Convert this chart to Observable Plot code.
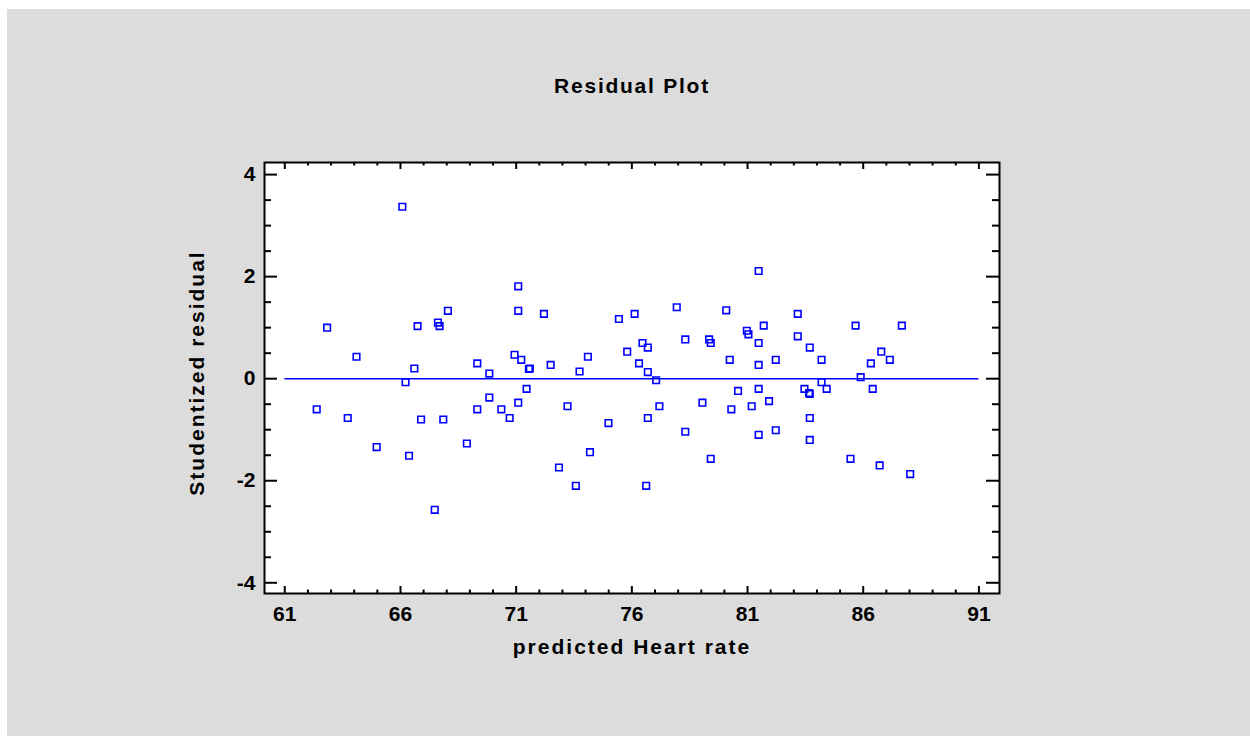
<!DOCTYPE html>
<html>
<head>
<meta charset="utf-8">
<script src="https://cdn.jsdelivr.net/npm/d3@7"></script>
<script src="https://cdn.jsdelivr.net/npm/@observablehq/plot@0.6"></script>
<style>
  html, body { margin: 0; padding: 0; background: #ffffff; }
  #wrap { position: relative; width: 1250px; height: 736px; overflow: hidden; }
  #panel { position: absolute; left: 7px; top: 9px; width: 1243px; height: 727px; background: #dcdcdc; }
  #chart { position: absolute; left: 0; top: 0; }
</style>
</head>
<body>
<div id="wrap"><div id="panel"></div><div id="chart"></div></div>
<script>
const titleText = "Residual Plot";
const xLabel = "predicted Heart rate";
const yLabel = "Studentized residual";

const predicted = [
  62.38, 62.83, 63.72, 64.10, 64.97, 66.08, 66.22, 66.37, 66.60, 66.74,
  66.89, 67.48, 67.62, 67.69, 67.85, 68.05, 68.87, 69.32, 69.32, 69.84,
  69.84, 70.36, 70.72, 70.93, 71.09, 71.09, 71.09, 71.22, 71.45, 71.59,
  71.55, 72.20, 72.49, 72.85, 73.22, 73.58, 73.74, 74.10, 74.19, 74.99,
  75.44, 75.80, 76.12, 76.31, 76.46, 76.62, 76.69, 76.69, 76.69, 77.05,
  77.19, 77.94, 78.31, 78.31, 79.05, 79.34, 79.41, 79.41, 80.08, 80.23,
  80.30, 80.59, 80.97, 81.04, 81.18, 81.48, 81.48, 81.48, 81.48, 81.48,
  81.70, 81.93, 82.22, 82.22, 83.17, 83.17, 83.46, 83.69, 83.69, 83.66,
  83.69, 83.69, 84.20, 84.20, 84.42, 85.45, 85.67, 85.89, 86.33, 86.41,
  86.71, 86.78, 87.15, 87.67, 88.03
];
const residual = [
  -0.60, 1.00, -0.77, 0.43, -1.34, 3.37, -0.07, -1.51, 0.20, 1.03,
  -0.80, -2.57, 1.10, 1.03, -0.80, 1.33, -1.27, 0.30, -0.60, 0.10,
  -0.37, -0.60, -0.77, 0.47, 1.81, 1.33, -0.47, 0.37, -0.20, 0.20,
  0.19, 1.27, 0.27, -1.74, -0.54, -2.10, 0.14, 0.43, -1.44, -0.87,
  1.17, 0.53, 1.27, 0.30, 0.70, -2.10, 0.61, 0.13, -0.77, -0.03,
  -0.54, 1.40, 0.77, -1.04, -0.47, 0.77, 0.70, -1.57, 1.34, 0.37,
  -0.60, -0.24, 0.94, 0.87, -0.54, 2.11, 0.70, 0.27, -0.20, -1.10,
  1.04, -0.44, 0.37, -1.01, 1.27, 0.83, -0.20, 0.61, -0.30, -0.28,
  -0.77, -1.20, 0.37, -0.07, -0.20, -1.57, 1.04, 0.03, 0.30, -0.20,
  -1.70, 0.53, 0.37, 1.04, -1.87
];

const xTicks = [61, 66, 71, 76, 81, 86, 91];
const xMinor = [62, 63, 64, 65, 67, 68, 69, 70, 72, 73, 74, 75, 77, 78, 79, 80,
                82, 83, 84, 85, 87, 88, 89, 90];
const yTicks = [-4, -2, 0, 2, 4];
const yMinor = [-3.5, -3, -2.5, -1.5, -1, -0.5, 0.5, 1, 1.5, 2.5, 3, 3.5];
const zeroLine = [0];

const data = predicted.map((x, i) => ({x, y: residual[i]}));

const W = 1250, H = 736, mL = 264, mR = 251, mT = 162, mB = 143;
const pW = W - mL - mR, pH = H - mT - mB;
const font = "'Liberation Sans', Arial, Helvetica, sans-serif";

const chart = Plot.plot({
  width: W, height: H,
  marginLeft: mL, marginRight: mR, marginTop: mT, marginBottom: mB,
  style: {background: "transparent", fontFamily: font, overflow: "visible"},
  x: {domain: [60.123, 91.89]},
  y: {domain: [-4.21, 4.237]},
  marks: [
    Plot.frame({fill: "white", stroke: null}),
    Plot.axisX(xTicks, {tickSize: 0, tickPadding: 13, fontSize: 21, fontWeight: "bold", fill: "black", label: null, tickFormat: d => String(d)}),
    Plot.axisY(yTicks, {tickSize: 0, tickPadding: 9, fontSize: 21, fontWeight: "bold", fill: "black", label: null, tickFormat: d => String(d)}),
    // inner ticks: bottom & top
    Plot.tickX(xTicks, {x: d => d, insetTop: pH - 7, stroke: "black", strokeWidth: 2}),
    Plot.tickX(xMinor, {x: d => d, insetTop: pH - 3.5, stroke: "black", strokeWidth: 2}),
    Plot.tickX(xTicks, {x: d => d, insetBottom: pH - 7, stroke: "black", strokeWidth: 2}),
    Plot.tickX(xMinor, {x: d => d, insetBottom: pH - 3.5, stroke: "black", strokeWidth: 2}),
    // inner ticks: left & right
    Plot.tickY(yTicks, {y: d => d, insetRight: pW - 13, stroke: "black", strokeWidth: 2}),
    Plot.tickY(yMinor, {y: d => d, insetRight: pW - 7, stroke: "black", strokeWidth: 2}),
    Plot.tickY(yTicks, {y: d => d, insetLeft: pW - 13, stroke: "black", strokeWidth: 2}),
    Plot.tickY(yMinor, {y: d => d, insetLeft: pW - 7, stroke: "black", strokeWidth: 2}),
    Plot.ruleY(zeroLine, {y: d => d, x1: xTicks[0], x2: xTicks[xTicks.length - 1], stroke: "#0000ff", strokeWidth: 1.4}),
    Plot.dot(data, {x: "x", y: "y", symbol: "square", r: 3.7, stroke: "#0000ff", strokeWidth: 1.6, fill: "none"}),
    Plot.frame({stroke: "black", strokeWidth: 2}),
    Plot.text([titleText], {text: d => d, frameAnchor: "top", dy: -76.5, fontSize: 21, fontWeight: "bold", fill: "black", lineAnchor: "middle", textAnchor: "middle"}),
    Plot.text([xLabel], {text: d => d, frameAnchor: "bottom", dy: 54, fontSize: 21, fontWeight: "bold", fill: "black", lineAnchor: "middle", textAnchor: "middle"}),
    Plot.text([yLabel], {text: d => d, frameAnchor: "left", dx: -67, dy: -5, rotate: -90, fontSize: 21, fontWeight: "bold", fill: "black", lineAnchor: "middle", textAnchor: "middle"})
  ]
});

d3.select(chart).selectAll("text")
  .filter(function() { return [titleText, xLabel, yLabel].includes(this.textContent); })
  .attr("letter-spacing", function() { return this.textContent === titleText ? "1.75px" : "2px"; });

document.getElementById("chart").appendChild(chart);
</script>
</body>
</html>
